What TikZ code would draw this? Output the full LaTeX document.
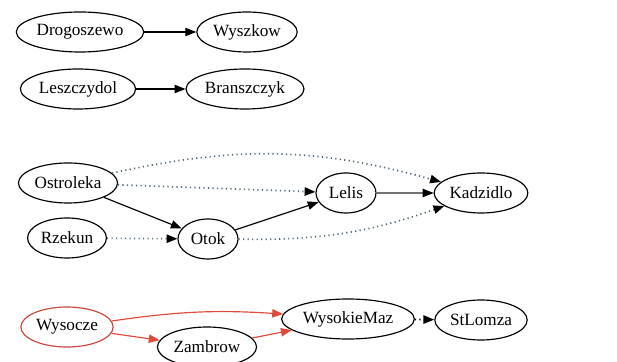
\documentclass[tikz,border=0pt]{standalone}
\usepackage{fontspec}
\setmainfont{Liberation Serif}
\usepackage{xcolor}
\usepackage{tikz}
\usetikzlibrary{arrows.meta,shapes.geometric}
\definecolor{dotc}{HTML}{4F6678}
\definecolor{redc}{HTML}{E04A3A}
\definecolor{redb}{HTML}{C8483E}
\tikzset{
  town/.style ={draw, ellipse, line width=0.7pt, inner sep=1pt, minimum height=24pt,
                minimum width=36pt, font=\fontsize{10.3}{12}\selectfont, fill=white},
  towr/.style ={town, draw=redb},
  ar/.style   ={-{Triangle[length=6.5pt,width=5pt]}, line width=0.7pt},
  argr/.style ={ar, draw=black!55, -{Triangle[length=6.5pt,width=5pt,color=black]}},
  ardot/.style={ar, dotted, line width=1pt, draw=dotc, -{Triangle[length=6.5pt,width=5pt,color=black]}},
  arred/.style={ar, draw=redc, -{Triangle[length=6.5pt,width=5pt,color=redc]}},
}
\begin{document}
\begin{tikzpicture}[x=0.6pt,y=0.6pt]
\useasboundingbox[fill=white] (0,0) rectangle (617,362);
\node[town] (drog) at (80,330) {Drogoszewo};
\node[town] (wysz) at (247,330) {Wyszkow};
\draw[ar] (drog) -- (wysz);
\node[town] (lesz) at (78,273) {Leszczydol};
\node[town] (bran) at (245,273) {Branszczyk};
\draw[ar] (lesz) -- (bran);
\node[town] (ostr) at (68,179) {Ostroleka};
\node[town] (rzek) at (67,124) {Rzekun};
\node[town] (otok) at (208,123) {Otok};
\node[town] (lelis) at (346,169) {Lelis};
\node[town] (kadz) at (481,169) {Kadzidlo};
\draw[ardot] (ostr) to[bend left=14] (kadz);
\draw[ardot] (ostr) -- (lelis);
\draw[ar] (ostr) -- (otok);
\draw[ardot] (rzek) -- (otok);
\draw[ar] (otok) -- (lelis);
\draw[argr] (lelis) -- (kadz);
\draw[ardot] (otok) to[bend right=10] (kadz);
\node[towr] (wyso) at (67,35) {Wysocze};
\node[town] (zamb) at (207,15) {Zambrow};
\node[town] (wmaz) at (348,43) {WysokieMaz};
\node[town] (stlo) at (481,42) {StLomza};
\draw[arred] (wyso) to[bend left=6] (wmaz);
\draw[arred] (wyso) -- (zamb);
\draw[arred] (zamb) -- (wmaz);
\draw[ar, dotted, line width=1pt] (wmaz) -- (stlo);
\end{tikzpicture}
\end{document}
